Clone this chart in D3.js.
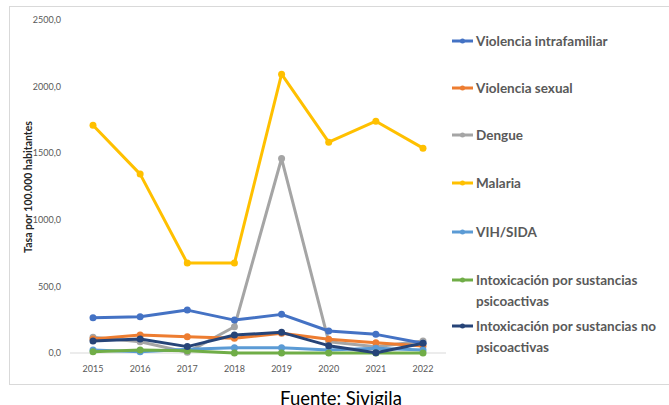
<!DOCTYPE html>
<html>
<head>
<meta charset="utf-8">
<script src="https://cdn.jsdelivr.net/npm/d3@7"></script>
<style>
  body { margin: 0; background: #fff; }
  text { font-family: Lato, "Open Sans", sans-serif; }
</style>
</head>
<body>
<div id="chart"></div>
<script>
const years = [2015, 2016, 2017, 2018, 2019, 2020, 2021, 2022]
const yTicks = [0, 500, 1000, 1500, 2000, 2500]

const seriesNames = [
  'Violencia intrafamiliar',
  'Violencia sexual',
  'Dengue',
  'Malaria',
  'VIH/SIDA',
  'Intoxicación por sustancias psicoactivas',
  'Intoxicación por sustancias no psicoactivas'
]
const legendLines = [
  ['Violencia intrafamiliar'],
  ['Violencia sexual'],
  ['Dengue'],
  ['Malaria'],
  ['VIH/SIDA'],
  ['Intoxicación por sustancias', 'psicoactivas'],
  ['Intoxicación por sustancias no', 'psicoactivas']
]
const colors = ['#4472C4', '#ED7D31', '#A5A5A5', '#FFC000', '#5B9BD5', '#70AD47', '#264478']

const violenciaIntra = [265, 272, 322, 247, 290, 165, 140, 73]
const violenciaSexual = [105, 135, 122, 110, 148, 103, 77, 52]
const dengue = [118, 85, 5, 197, 1460, 85, 47, 90]
const malaria = [1710, 1343, 675, 675, 2093, 1583, 1740, 1538]
const vihSida = [22, 10, 28, 40, 40, 22, 35, 22]
const intoxPsico = [10, 22, 17, 0, 0, 0, 0, 0]
const intoxNoPsico = [90, 105, 48, 135, 155, 55, 2, 73]

const values = [violenciaIntra, violenciaSexual, dengue, malaria, vihSida, intoxPsico, intoxNoPsico]
// draw order: later ones on top
const drawOrder = [3, 2, 0, 1, 4, 5, 6]

const width = 669, height = 405

const svg = d3.select('#chart').append('svg')
  .attr('width', width)
  .attr('height', height)

// chart frame
svg.append('rect')
  .attr('x', 9.5).attr('y', 6.5)
  .attr('width', width + 10).attr('height', 378)
  .attr('fill', '#fff')
  .attr('stroke', '#d9d9d9')
  .attr('stroke-width', 1)

const x = d3.scalePoint()
  .domain(years)
  .range([93, 423])

const y = d3.scaleLinear()
  .domain([0, 2500])
  .range([353, 20])

const fmt = d => d3.format('.1f')(d).replace('.', ',')

// baseline
svg.append('line')
  .attr('x1', 70).attr('x2', 446)
  .attr('y1', y(0)).attr('y2', y(0))
  .attr('stroke', '#d9d9d9')
  .attr('stroke-width', 1)

// y tick labels
svg.selectAll('.ytick')
  .data(yTicks)
  .enter()
  .append('text')
  .attr('class', 'ytick')
  .attr('x', 61)
  .attr('y', d => y(d))
  .attr('dy', '0.35em')
  .attr('text-anchor', 'end')
  .attr('font-size', 9)
  .attr('fill', '#595959')
  .text(fmt)

// x tick labels
svg.selectAll('.xtick')
  .data(years)
  .enter()
  .append('text')
  .attr('class', 'xtick')
  .attr('x', d => x(d))
  .attr('y', 369)
  .attr('dy', '0.35em')
  .attr('text-anchor', 'middle')
  .attr('font-size', 9)
  .attr('fill', '#595959')
  .text(d => d)

// y axis title
svg.append('text')
  .attr('transform', 'translate(32,187) rotate(-90)')
  .attr('text-anchor', 'middle')
  .attr('font-size', 10.5)
  .attr('font-weight', 'bold')
  .attr('fill', '#262626')
  .text('Tasa por 100.000 habitantes')

const line = d3.line()
  .x((d, i) => x(years[i]))
  .y(d => y(d))

drawOrder.forEach(k => {
  const g = svg.append('g')
  g.append('path')
    .datum(values[k])
    .attr('d', line)
    .attr('fill', 'none')
    .attr('stroke', colors[k])
    .attr('stroke-width', 3)
    .attr('stroke-linejoin', 'round')
  g.selectAll('circle')
    .data(values[k])
    .enter()
    .append('circle')
    .attr('cx', (d, i) => x(years[i]))
    .attr('cy', d => y(d))
    .attr('r', 3.5)
    .attr('fill', colors[k])
})

// legend
const legendY = [41, 88, 135, 183, 232, 280, 326]
const legend = svg.selectAll('.legend')
  .data(seriesNames)
  .enter()
  .append('g')
  .attr('class', 'legend')
  .attr('transform', (d, i) => `translate(452,${legendY[i]})`)

legend.append('line')
  .attr('x1', 0).attr('x2', 21)
  .attr('stroke', (d, i) => colors[i])
  .attr('stroke-width', 3)
legend.append('circle')
  .attr('cx', 10.5)
  .attr('r', 2.5)
  .attr('fill', (d, i) => colors[i])

legend.append('text')
  .attr('x', 24)
  .attr('font-size', 13.5)
  .attr('fill', '#595959')
  .attr('font-weight', 'bold')
  .each(function(d, i) {
    d3.select(this).selectAll('tspan')
      .data(legendLines[i])
      .enter()
      .append('tspan')
      .attr('x', 24)
      .attr('y', (t, j) => j * 21)
      .attr('dy', '0.35em')
      .text(t => t)
  })

// source
svg.append('text')
  .attr('x', 341)
  .attr('y', 405)
  .attr('text-anchor', 'middle')
  .attr('font-size', 18.5)
  .attr('fill', '#000')
  .text('Fuente: Sivigila')
</script>
</body>
</html>
